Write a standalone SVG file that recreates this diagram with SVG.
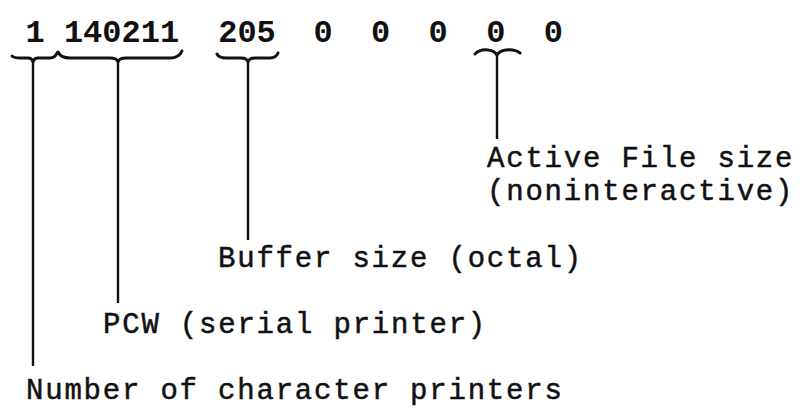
<svg xmlns="http://www.w3.org/2000/svg" width="805" height="414" viewBox="0 0 805 414">
  <style>
    .field { font-family: "Liberation Mono", "Courier New", monospace; font-size: 32px; font-weight: bold; fill: #111; text-anchor: middle; }
    .label { font-family: "Liberation Mono", "Courier New", monospace; font-size: 29px; letter-spacing: 1.8px; fill: #111; stroke: #111; stroke-width: 0.5px; }
    .brace { fill: none; stroke: #111; stroke-width: 3; stroke-linecap: round; stroke-linejoin: round; }
    .stem { fill: none; stroke: #111; stroke-width: 2.4; }
  </style>
  <rect width="805" height="414" fill="#fff"/>

  <!-- word fields -->
  <g id="field-count"><text class="field" x="35" y="42">1</text></g>
  <g id="field-pcw"><text class="field" x="121.5" y="42">140211</text></g>
  <g id="field-buffer"><text class="field" x="247" y="42">205</text></g>
  <g id="field-zero-1"><text class="field" x="323" y="42">0</text></g>
  <g id="field-zero-2"><text class="field" x="380.6" y="42">0</text></g>
  <g id="field-zero-3"><text class="field" x="438.2" y="42">0</text></g>
  <g id="field-active"><text class="field" x="495.8" y="42">0</text></g>
  <g id="field-zero-5"><text class="field" x="553.4" y="42">0</text></g>

  <!-- descriptions -->
  <g id="label-active">
    <text class="label" x="487" y="167">Active File size</text>
    <text class="label" x="487" y="200">(noninteractive)</text>
  </g>
  <g id="label-buffer"><text class="label" x="218" y="267">Buffer size (octal)</text></g>
  <g id="label-pcw"><text class="label" x="103" y="333">PCW (serial printer)</text></g>
  <g id="label-count"><text class="label" x="26" y="399">Number of character printers</text></g>

  <!-- braces and leader lines -->
  <g id="connectors">
    <path class="brace" d="M12,56 Q14,58 20,58 L28,58 Q32,58 33,62 Q34,58 38,58 L50,58 Q55,58 57,53"/>
    <line class="stem" x1="33" y1="61" x2="33" y2="366"/>

    <path class="brace" d="M58,52 Q61,58 70,58 L110,58 Q117,58 118,62 Q119,58 126,58 L170,58 Q179,58 182,51"/>
    <line class="stem" x1="118" y1="61" x2="118" y2="303"/>

    <path class="brace" d="M217,54 Q219,58 226,58 L241,58 Q247,58 248,62 Q249,58 255,58 L270,58 Q276,58 278,53"/>
    <line class="stem" x1="248" y1="61" x2="248" y2="240"/>

    <path class="brace" d="M475,54 Q480,49 488,50 Q495,51 497,55 Q499,51 506,50 Q515,49 520,53"/>
    <line class="stem" x1="497" y1="54" x2="497" y2="139"/>
  </g>
</svg>
